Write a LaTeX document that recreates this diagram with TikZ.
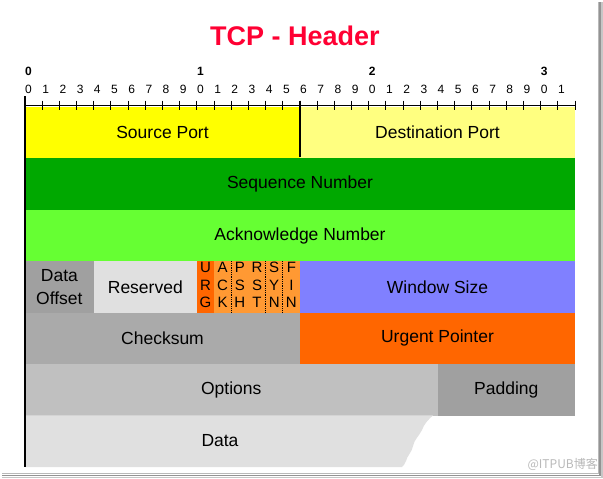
\documentclass[tikz,border=0pt]{standalone}
\usepackage{fontspec}
\setmainfont{Liberation Sans}
\newfontfamily\cjkfont{Noto Sans CJK SC}
\definecolor{cYellow}{HTML}{FFFF00}
\definecolor{cLYellow}{HTML}{FFFF80}
\definecolor{cSeq}{HTML}{00A800}
\definecolor{cAck}{HTML}{66FF33}
\definecolor{cDOff}{HTML}{A0A0A0}
\definecolor{cRes}{HTML}{E0E0E0}
\definecolor{cUrg}{HTML}{FF6600}
\definecolor{cFlag}{HTML}{FF9933}
\definecolor{cWin}{HTML}{8080FF}
\definecolor{cChk}{HTML}{AAAAAA}
\definecolor{cOpt}{HTML}{C0C0C0}
\definecolor{cPad}{HTML}{A0A0A0}
\definecolor{cData}{HTML}{E0E0E0}
\definecolor{cTitle}{HTML}{FF0033}
\newcommand\fld[6]{%
  \pgfmathsetmacro\fx{25+(#3+#4)/2*17.1875}%
  \pgfmathsetmacro\fw{(#4-#3)*17.1875}%
  \pgfmathsetmacro\fy{107+(#5+0.5)*51.43}%
  \node[field,fill=#2,minimum width=\fw pt] (#1) at (\fx,\fy) {#6};}
\tikzset{
  field/.style={inner sep=0pt,outer sep=0pt,draw=none,minimum height=51.43pt,
    align=center,font=\fontsize{17.5}{22.5}\selectfont},
  flagtxt/.style={font=\fontsize{15}{17.5}\selectfont},
  digit/.style={anchor=west,inner sep=0pt,font=\fontsize{12}{12}\selectfont},
  bigdigit/.style={anchor=west,inner sep=0pt,font=\fontsize{12}{12}\selectfont\bfseries},
  axis/.style={line width=1.2pt,black},
}
\begin{document}
\begin{tikzpicture}[x=1pt,y=-1pt]
\useasboundingbox[fill=white] (0,0) rectangle (603,479);
% title
\node[font=\fontsize{27}{27}\selectfont\bfseries,text=cTitle] (title) at (295,36) {TCP - Header};
% fields
\fld{src}{cYellow}{0}{16}{0}{Source Port}
\fld{dst}{cLYellow}{16}{32}{0}{Destination Port}
\fld{seq}{cSeq}{0}{32}{1}{Sequence Number}
\fld{ack}{cAck}{0}{32}{2}{Acknowledge Number}
\fld{doff}{cDOff}{0}{4}{3}{Data\\Offset}
\fld{res}{cRes}{4}{10}{3}{Reserved}
\fld{urg}{cUrg}{10}{11}{3}{}
\fld{fack}{cFlag}{11}{12}{3}{}
\fld{psh}{cFlag}{12}{13}{3}{}
\fld{rst}{cFlag}{13}{14}{3}{}
\fld{syn}{cFlag}{14}{15}{3}{}
\fld{fin}{cFlag}{15}{16}{3}{}
\fld{win}{cWin}{16}{32}{3}{Window Size}
\fld{chk}{cChk}{0}{16}{4}{Checksum}
\fld{uptr}{cUrg}{16}{32}{4}{Urgent Pointer}
\fld{opt}{cOpt}{0}{24}{5}{Options}
\fld{pad}{cPad}{24}{32}{5}{Padding}
% flag letters
\foreach \n/\t in {urg/{U\\R\\G},fack/{A\\C\\K},psh/{P\\S\\H},rst/{R\\S\\T},syn/{S\\Y\\N},fin/{F\\I\\N}}
  \node[flagtxt,align=center,inner sep=0pt] (\n txt) at ([yshift=2pt]\n.center) {\t};
% dotted separators
\foreach \n in {psh,syn,fin}
  \draw[densely dotted,line width=0.8pt] (\n.north west) -- (\n.south west);
% data (torn edge)
\fill[cData] (25,415.3) -- (433,415.3)
  .. controls (428,420) and (424,424) .. (422,430)
  .. controls (419,436) and (414,440) .. (413,446)
  .. controls (412,452) and (407,456) .. (406,461)
  .. controls (405,464) and (403,466) .. (402,467) -- (25,467) -- cycle;
\node[field,minimum height=0pt] (data) at (220,441) {Data};
% ruler
\draw[line width=1pt] (25,105.5) -- (575,105.5);
\foreach \i in {0,...,32}{
  \pgfmathsetmacro\tx{25+\i*17.1875}
  \draw[line width=1pt] (\tx,100.5) -- (\tx,110);
}
\foreach \i in {0,...,31}{
  \pgfmathsetmacro\tx{25+\i*17.1875}
  \pgfmathtruncatemacro\dd{mod(\i,10)}
  \node[digit] (d\i) at (\tx,89) {\dd};
}
\foreach \i/\l in {0/0,10/1,20/2,30/3}{
  \pgfmathsetmacro\tx{25+\i*17.1875}
  \node[bigdigit] (b\i) at (\tx,71) {\l};
}
\draw[line width=1.2pt] (300,100.5) -- (300,157);
\draw[axis] (25,96) -- (25,467);
% watermark
\node[anchor=east,inner sep=0pt,text=gray!55,font=\cjkfont\fontsize{12}{12}\selectfont] (wm) at (598,464) {@ITPUB博客};
% shadow frame
\draw[gray!55,line width=1pt] (598,2) -- (598,474);
\draw[gray!85,line width=1.5pt] (599.8,2) -- (599.8,476);
\draw[gray!45,line width=1.5pt] (601.8,2) -- (601.8,478);
\draw[gray!55,line width=1pt] (2,473.5) -- (598,473.5);
\draw[gray!85,line width=1.5pt] (2,475.3) -- (600,475.3);
\draw[gray!45,line width=1.5pt] (2,477.3) -- (602,477.3);
\end{tikzpicture}
\end{document}
